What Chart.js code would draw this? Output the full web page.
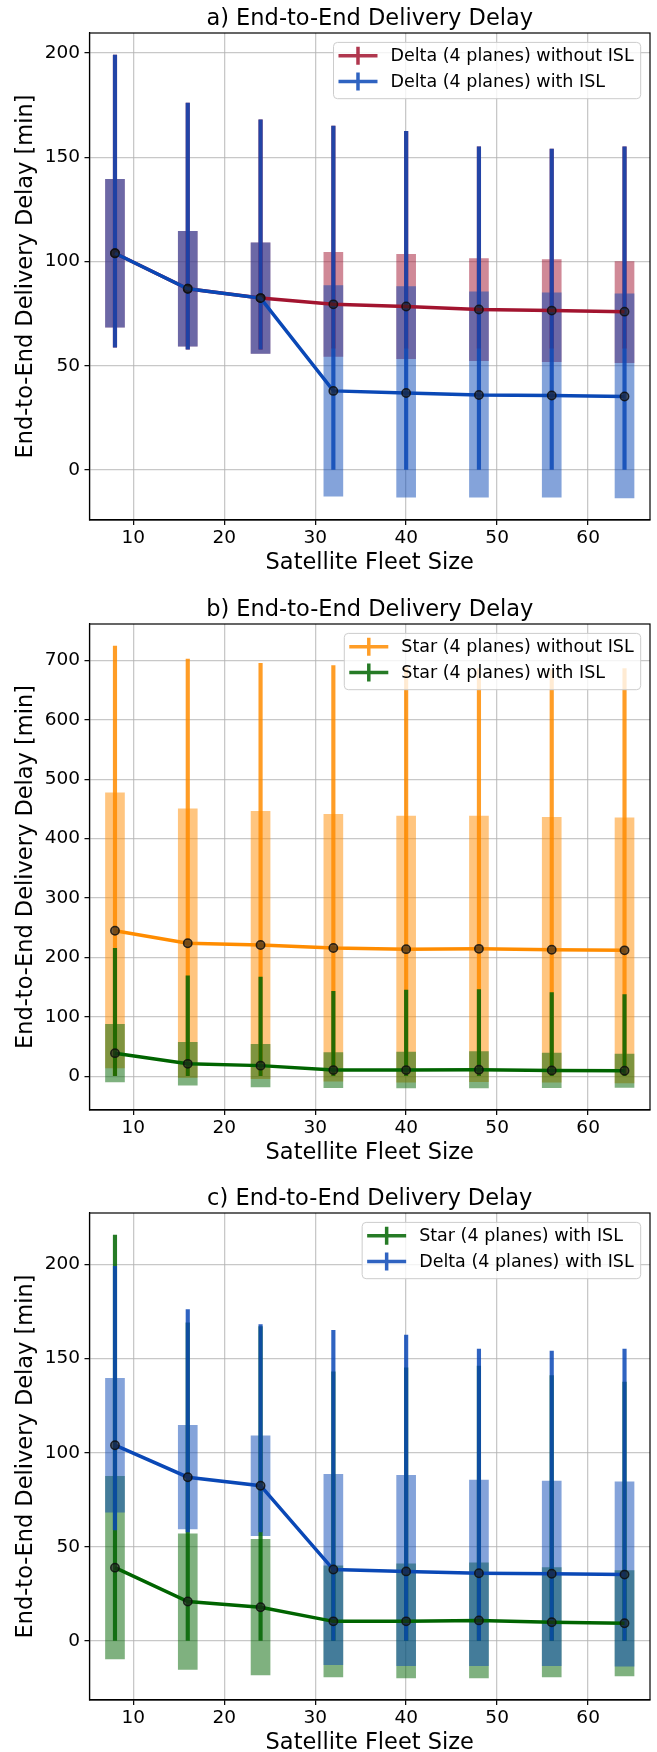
<!DOCTYPE html>
<html>
<head>
<meta charset="utf-8">
<script src="https://cdn.jsdelivr.net/npm/chart.js@4.4.0/dist/chart.umd.min.js"></script>
<style>
  html, body { margin: 0; padding: 0; background: #fff; }
  body { width: 657px; height: 1752px; position: relative; overflow: hidden; }
  canvas { position: absolute; left: 0; }
</style>
</head>
<body>
<canvas id="chartA"></canvas>
<canvas id="chartB"></canvas>
<canvas id="chartC"></canvas>
<script>
// x positions (satellite fleet size)
const fleetSizes = [8, 16, 24, 32, 40, 48, 56, 64];
const xTickStep = 10;

// Delta (4 planes) without ISL
const deltaNoIslMean = [104, 87, 82.5, 79.5, 78.5, 77, 76.5, 76];
const deltaNoIslLo   = [68.5, 59.5, 56, 54.5, 53.5, 52.5, 52, 51.5];
const deltaNoIslHi   = [139.5, 114.5, 109, 104.5, 103.5, 101.5, 101, 100];
const deltaNoIslMin  = [59, 58, 58, 58.5, 58.5, 58.5, 58.5, 58.5];
const deltaNoIslMax  = [199, 176, 168, 165, 162.5, 155, 154, 155];

// Delta (4 planes) with ISL
const deltaIslMean = [104, 87, 82.5, 38, 37, 36, 35.8, 35.3];
const deltaIslLo   = [68.5, 59.5, 56, -12.5, -13, -13, -13, -13.3];
const deltaIslHi   = [139.5, 114.5, 109, 88.5, 88, 85.5, 85, 84.5];
const deltaIslMin  = [59, 58, 58, 0, 0, 0, 0, 0];
const deltaIslMax  = [199, 176, 168, 165, 162.5, 155, 154, 155];

// Star (4 planes) without ISL
const starNoIslMean = [245, 224, 221, 216, 214, 214.5, 213, 212];
const starNoIslLo   = [14, -2, -4, -8, -10, -9, -10, -11];
const starNoIslHi   = [477, 450, 446, 441, 438, 438, 436, 435];
const starNoIslMin  = [0, 0, 0, 0, 0, 0, 0, 0];
const starNoIslMax  = [724, 702, 695, 691, 688, 686, 685, 686];

// Star (4 planes) with ISL
const starIslMean = [39, 21, 18, 10.5, 10.5, 11, 10, 9.5];
const starIslLo   = [-9.5, -15, -18, -19, -19.5, -19.5, -19, -18.5];
const starIslHi   = [87.5, 57, 54, 40, 41, 41.5, 39, 37.5];
const starIslMin  = [0, 0, 0, 0, 0, 0, 0, 0];
const starIslMax  = [215.5, 169, 167, 143, 145, 146, 141, 137.5];

const deltaNoIsl = { label: 'Delta (4 planes) without ISL', rgb: [162, 20, 47],
  mean: deltaNoIslMean, lo: deltaNoIslLo, hi: deltaNoIslHi, min: deltaNoIslMin, max: deltaNoIslMax };
const deltaIsl = { label: 'Delta (4 planes) with ISL', rgb: [10, 72, 182],
  mean: deltaIslMean, lo: deltaIslLo, hi: deltaIslHi, min: deltaIslMin, max: deltaIslMax };
const starNoIsl = { label: 'Star (4 planes) without ISL', rgb: [255, 140, 0],
  mean: starNoIslMean, lo: starNoIslLo, hi: starNoIslHi, min: starNoIslMin, max: starNoIslMax };
const starIsl = { label: 'Star (4 planes) with ISL', rgb: [0, 100, 0],
  mean: starIslMean, lo: starIslLo, hi: starIslHi, min: starIslMin, max: starIslMax };

const FONT = 'DejaVu Sans';
const rgba = (c, a) => `rgba(${c[0]},${c[1]},${c[2]},${a})`;

function rangePoints(lo, hi) {
  return fleetSizes.map((x, i) => ({ x: x, y: [lo[i], hi[i]] }));
}
function meanPoints(mean) {
  return fleetSizes.map((x, i) => ({ x: x, y: mean[i] }));
}

// matplotlib style 5% margins
function padded(lo, hi) {
  const m = (hi - lo) * 0.05;
  return [lo - m, hi + m];
}

// datasets for one series; layer 1 is drawn above layer 0
function seriesDatasets(s, layer) {
  return [
    { type: 'bar', data: rangePoints(s.lo, s.hi), backgroundColor: rgba(s.rgb, 0.5),
      barThickness: 19, grouped: false, borderWidth: 0, order: 5 - layer },
    { type: 'bar', data: rangePoints(s.min, s.max), backgroundColor: rgba(s.rgb, 0.85),
      barThickness: 3.5, grouped: false, borderWidth: 0, order: 3 - layer },
    { type: 'line', data: meanPoints(s.mean), borderColor: rgba(s.rgb, 1), borderWidth: 3.5,
      pointRadius: 4.2, pointBackgroundColor: 'rgba(30,30,30,0.6)', pointBorderColor: 'rgba(15,15,15,0.85)',
      pointBorderWidth: 1.5, tension: 0, order: 1 - layer }
  ];
}

// frame, title and legend drawn on top
const decorations = {
  id: 'decorations',
  afterDraw(chart, args, opts) {
    const { ctx, chartArea: a } = chart;
    ctx.save();
    ctx.strokeStyle = '#000';
    ctx.lineWidth = 1.2;
    ctx.strokeRect(a.left, a.top, a.right - a.left, a.bottom - a.top);

    ctx.fillStyle = '#000';
    ctx.font = `22.5px "${FONT}"`;
    ctx.textAlign = 'center';
    ctx.textBaseline = 'alphabetic';
    ctx.fillText(opts.title, (a.left + a.right) / 2, a.top - 8.3);

    ctx.font = `17.5px "${FONT}"`;
    const textW = Math.max(...opts.entries.map(e => ctx.measureText(e.label).width));
    const boxW = 57 + textW + 7;
    const boxR = a.right - 9.3;
    const boxL = boxR - boxW;
    const boxT = a.top + 9.4;
    const rowH = 25.7;
    const boxH = 13.3 + rowH + 17.3;
    ctx.beginPath();
    ctx.roundRect(boxL, boxT, boxW, boxH, 4);
    ctx.fillStyle = 'rgba(255,255,255,0.8)';
    ctx.fill();
    ctx.strokeStyle = '#cccccc';
    ctx.lineWidth = 1;
    ctx.stroke();

    opts.entries.forEach((e, i) => {
      const y = boxT + 13.3 + i * rowH;
      ctx.strokeStyle = rgba(e.rgb, 0.85);
      ctx.lineWidth = 3.5;
      ctx.beginPath();
      ctx.moveTo(boxL + 5, y);
      ctx.lineTo(boxL + 44, y);
      ctx.moveTo(boxL + 24.5, y - 9);
      ctx.lineTo(boxL + 24.5, y + 9);
      ctx.stroke();
      ctx.fillStyle = '#000';
      ctx.textAlign = 'left';
      ctx.textBaseline = 'middle';
      ctx.fillText(e.label, boxL + 57, y + 1);
    });
    ctx.restore();
  }
};

const panels = [
  { id: 'chartA', top: 0, plotH: 487, title: 'a) End-to-End Delivery Delay', yStep: 50, series: [deltaNoIsl, deltaIsl] },
  { id: 'chartB', top: 590.5, plotH: 486, title: 'b) End-to-End Delivery Delay', yStep: 100, series: [starNoIsl, starIsl] },
  { id: 'chartC', top: 1180, plotH: 487, title: 'c) End-to-End Delivery Delay', yStep: 50, series: [starIsl, deltaIsl] }
];

const padTop = 33, xAxisH = 64, yAxisW = 89.5;
const xRange = padded(Math.min(...fleetSizes), Math.max(...fleetSizes));

panels.forEach(p => {
  const canvas = document.getElementById(p.id);
  const h = padTop + p.plotH + xAxisH;
  canvas.width = 657;
  canvas.height = h;
  canvas.style.top = p.top + 'px';
  canvas.style.width = '657px';
  canvas.style.height = h + 'px';

  const lows = p.series.flatMap(s => [...s.lo, ...s.min]);
  const highs = p.series.flatMap(s => [...s.hi, ...s.max]);
  const yRange = padded(Math.min(...lows), Math.max(...highs));

  const datasets = [];
  p.series.forEach((s, layer) => datasets.push(...seriesDatasets(s, layer)));

  const gridOpts = { offset: false, color: 'rgba(176,176,176,0.7)', lineWidth: 1.3,
    tickColor: '#000', tickWidth: 1.2, tickLength: 5 };

  new Chart(canvas.getContext('2d'), {
    type: 'bar',
    data: { datasets: datasets },
    options: {
      responsive: false,
      animation: false,
      devicePixelRatio: 1,
      layout: { padding: { top: padTop, left: 0, right: 7, bottom: 0 } },
      plugins: {
        legend: { display: false },
        tooltip: { enabled: false },
        decorations: { title: p.title, entries: p.series.map(s => ({ label: s.label, rgb: s.rgb })) }
      },
      scales: {
        x: {
          type: 'linear', min: xRange[0], max: xRange[1], offset: false,
          ticks: { stepSize: xTickStep, includeBounds: false, color: '#000', padding: 2.4, font: { family: FONT, size: 18.5 } },
          grid: gridOpts,
          border: { display: true, color: '#000', width: 1.2 },
          title: { display: true, text: 'Satellite Fleet Size', color: '#000',
            font: { family: FONT, size: 22.5 }, padding: { top: 0, bottom: 7.5 } },
          afterFit: s => { s.height = xAxisH; }
        },
        y: {
          type: 'linear', min: yRange[0], max: yRange[1],
          ticks: { stepSize: p.yStep, includeBounds: false, color: '#000', padding: 4.5, font: { family: FONT, size: 18.5 } },
          grid: gridOpts,
          border: { display: true, color: '#000', width: 1.2 },
          title: { display: true, text: 'End-to-End Delivery Delay [min]', color: '#000',
            font: { family: FONT, size: 22.5 }, padding: { top: 12.5, bottom: 0 } },
          afterFit: s => { s.width = yAxisW; }
        }
      }
    },
    plugins: [decorations]
  });
});
</script>
</body>
</html>
